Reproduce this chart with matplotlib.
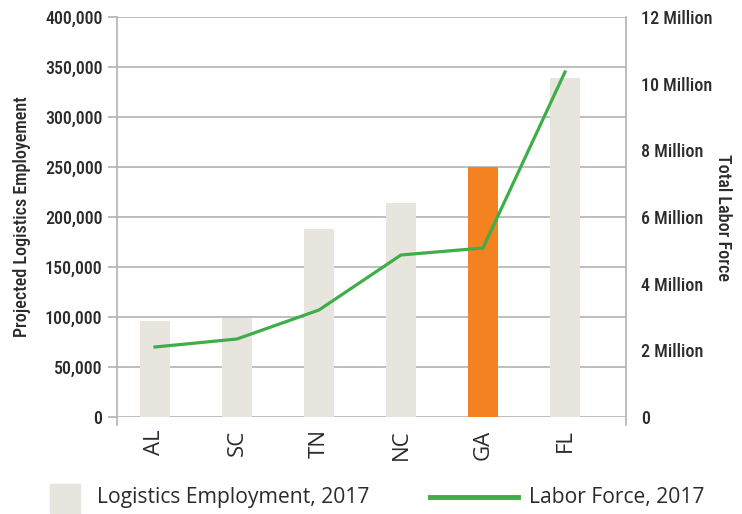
import matplotlib
matplotlib.use("Agg")
import matplotlib.pyplot as plt
from matplotlib.patches import Rectangle
from matplotlib.lines import Line2D
from matplotlib.ticker import FuncFormatter, MultipleLocator

# data
states = ["AL", "SC", "TN", "NC", "GA", "FL"]
employment = [96000, 99000, 188000, 214000, 250000, 339000]
labor_force = [2.10, 2.34, 3.21, 4.86, 5.07, 10.35]  # millions
highlight = "GA"

narrow = "Roboto Condensed"
round_font = "Open Sans"
grey_line = "#b3b3b3"
text_col = "#2b2b2b"

fig = plt.figure(figsize=(7.42, 5.14), dpi=100)
ax = fig.add_axes([117 / 742, 1 - 417 / 514, 509 / 742, 400 / 514])

x = list(range(len(states)))
colors = ["#f58220" if s == highlight else "#e8e4de" for s in states]
ax.bar(x, employment, width=0.37, color=colors, zorder=2)

ax.set_xlim(-0.463, 5.744)
ax.set_ylim(0, 400000)
ax.yaxis.set_major_locator(MultipleLocator(50000))
ax.yaxis.set_major_formatter(FuncFormatter(lambda v, p: f"{int(v):,}"))
ax.grid(axis="y", color=grey_line, linewidth=1.2, zorder=0)
ax.set_axisbelow(True)
ax.tick_params(axis="y", left=True, right=True, direction="out", length=6.5,
               width=1.2, color=grey_line, pad=4, labelsize=13,
               labelcolor=text_col, labelfontfamily=narrow)

ax.set_xticks(x)
ax.set_xticklabels(states, rotation=90, family=round_font, fontsize=16,
                   color=text_col)
ax.tick_params(axis="x", length=0, pad=9)

for side in ["top", "bottom"]:
    ax.spines[side].set_visible(False)
for side in ["left", "right"]:
    ax.spines[side].set_color(grey_line)
    ax.spines[side].set_linewidth(1.2)
    ax.spines[side].set_bounds(-8000, 400000)

ax.set_ylabel("Projected Logistics Employement", family=narrow, fontsize=13,
              fontweight="medium", color=text_col, labelpad=10)

ax2 = ax.twinx()
ax2.plot(x, labor_force, color="#3fae49", linewidth=2.3, zorder=3)
ax2.set_ylim(0, 12)
ax2.yaxis.set_major_locator(MultipleLocator(2))
ax2.yaxis.set_major_formatter(
    FuncFormatter(lambda v, p: "0" if v == 0 else f"{int(v)} Million"))
ax2.tick_params(axis="y", length=0, pad=11, labelsize=13, labelcolor=text_col,
                labelfontfamily=narrow)
for s in ax2.spines.values():
    s.set_visible(False)
ax2.set_ylabel("Total Labor Force", family=narrow, fontsize=13,
               fontweight="medium", color=text_col, rotation=-90, labelpad=14)

for lab in ax.get_yticklabels() + ax2.get_yticklabels():
    lab.set_fontweight("medium")

# legend drawn along the bottom
fig.add_artist(Rectangle((50 / 742, 1 - 513 / 514), 30 / 742, 29 / 514,
                         transform=fig.transFigure, color="#e8e4de"))
fig.text(97 / 742, 1 - 498 / 514, "Logistics Employment, 2017", family=round_font,
         fontsize=15.2, color=text_col, va="center")
fig.add_artist(Line2D([430 / 742, 518 / 742], [1 - 497 / 514, 1 - 497 / 514],
                      transform=fig.transFigure, color="#3fae49", linewidth=3.5))
fig.text(529 / 742, 1 - 498 / 514, "Labor Force, 2017", family=round_font,
         fontsize=15.2, color=text_col, va="center")

fig.savefig("out.png", dpi=100)
